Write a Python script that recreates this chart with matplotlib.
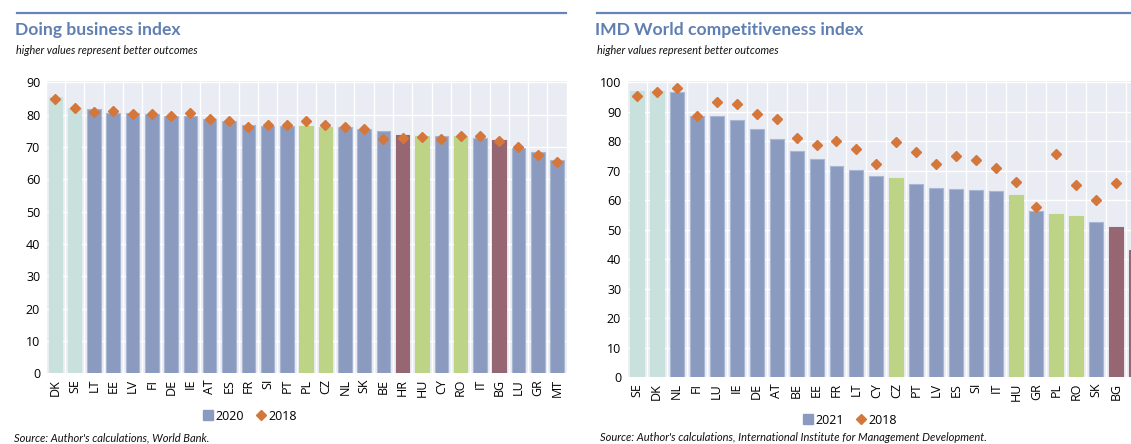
import numpy as np
import matplotlib
matplotlib.use("Agg")
import matplotlib.pyplot as plt
from matplotlib.lines import Line2D

# ---------------- data ----------------
db_countries = ["DK", "SE", "LT", "EE", "LV", "FI", "DE", "IE", "AT", "ES", "FR", "SI", "PT",
                "PL", "CZ", "NL", "SK", "BE", "HR", "HU", "CY", "RO", "IT", "BG", "LU", "GR", "MT"]
db_2020 = [85.3, 82.0, 81.6, 80.6, 80.4, 80.2, 79.7, 79.6, 78.7, 77.9, 76.8, 76.5, 76.5,
           76.4, 76.3, 76.1, 75.6, 75.0, 73.6, 73.4, 73.3, 73.3, 72.9, 72.0, 69.6, 68.4, 66.1]
db_2018 = [84.9, 82.2, 80.9, 81.0, 80.2, 80.2, 79.5, 80.4, 78.8, 77.9, 76.3, 76.7, 76.8,
           78.1, 76.7, 76.3, 75.5, 72.6, 72.9, 73.0, 72.6, 73.4, 73.5, 71.9, 69.9, 67.4, 65.5]

imd_countries = ["SE", "DK", "NL", "FI", "LU", "IE", "DE", "AT", "BE", "EE", "FR", "LT", "CY",
                 "CZ", "PT", "LV", "ES", "SI", "IT", "HU", "GR", "PL", "RO", "SK", "BG", "HR"]
imd_2021 = [97.0, 97.0, 96.6, 88.7, 88.7, 87.2, 84.1, 80.7, 76.6, 73.9, 71.6, 70.4, 68.1,
            67.6, 65.4, 64.2, 63.8, 63.4, 63.3, 61.8, 56.4, 55.4, 54.7, 52.5, 50.9, 43.1]
imd_2018 = [95.5, 96.6, 98.0, 88.7, 93.4, 92.5, 89.1, 87.6, 81.1, 78.7, 80.2, 77.3, 72.4,
            79.8, 76.4, 72.4, 75.1, 73.6, 70.8, 66.2, 57.6, 75.7, 65.1, 60.2, 65.9, np.nan]

teal_group = ["DK", "SE"]
green_group = ["PL", "CZ", "HU", "RO"]
maroon_group = ["HR", "BG"]

# ---------------- style ----------------
BLUE = "#8A9BBF"
BLUE_EDGE = "#A8B7D3"
TEAL = "#C8E1DC"
GREEN = "#BDD386"
MAROON = "#976673"
ORANGE = "#D5773A"
BG = "#EAECF3"
TITLE_C = "#5F7FB3"

def color_for(c):
    if c in teal_group:
        return TEAL
    if c in green_group:
        return GREEN
    if c in maroon_group:
        return MAROON
    return BLUE

W, H = 1131, 444
fig = plt.figure(figsize=(W / 100, H / 100), dpi=100)

tick_font = "Open Sans"
title_font = "Lato"

def panel(rect, cats, v_new, v_old, ymax, ticks):
    ax = fig.add_axes(rect)
    ax.set_facecolor(BG)
    x = np.arange(len(cats))
    cols = [color_for(c) for c in cats]
    edges = [BLUE_EDGE if col == BLUE else col for col in cols]
    ax.bar(x, v_new, width=0.7, color=cols, edgecolor=edges, linewidth=0.8, zorder=2)
    ax.plot(x, v_old, linestyle="none", marker="D", markersize=5,
            color=ORANGE, markeredgecolor=ORANGE, zorder=3)
    ax.set_xlim(-0.5, len(cats) - 0.5)
    ax.set_ylim(0, ymax)
    ax.set_yticks(ticks)
    ax.set_xticks(x)
    ax.set_xticklabels(cats, rotation=90, fontsize=9, fontfamily=tick_font)
    ax.set_xticks(np.arange(len(cats) + 1) - 0.5, minor=True)
    for lab in ax.get_yticklabels():
        lab.set_fontsize(9)
        lab.set_fontfamily(tick_font)
    ax.tick_params(axis="both", which="both", length=0, pad=4)
    ax.grid(True, axis="y", which="major", color="white", linewidth=1.0, zorder=1)
    ax.grid(True, axis="x", which="minor", color="white", linewidth=1.0, zorder=1)
    ax.grid(False, axis="x", which="major")
    ax.set_axisbelow(True)
    for s in ax.spines.values():
        s.set_visible(False)
    return ax

# left panel
panel([45.7 / W, (H - 373.3) / H, 521 / W, (373.3 - 81) / H],
      db_countries, db_2020, db_2018, 90.4, np.arange(0, 91, 10))
# right panel (extends beyond the right edge of the figure, as in the reference)
panel([626.7 / W, (H - 377.3) / H, 519.5 / W, (377.3 - 81) / H],
      imd_countries, imd_2021, imd_2018, 100.44, np.arange(0, 101, 10))

# header rules
fig.add_artist(Line2D([17 / W, 566 / W], [(H - 12.7) / H] * 2, color="#6585B8", linewidth=1.6))
fig.add_artist(Line2D([597 / W, 1.0], [(H - 12.7) / H] * 2, color="#6585B8", linewidth=1.6))

# titles
fig.text(15 / W, (H - 30) / H, "Doing business index", fontsize=12.6, fontweight="bold",
         color=TITLE_C, fontfamily=title_font, va="center", ha="left")
fig.text(595 / W, (H - 30) / H, "IMD World competitiveness index", fontsize=12.6, fontweight="bold",
         color=TITLE_C, fontfamily=title_font, va="center", ha="left")
fig.text(16 / W, (H - 50) / H, "higher values represent better outcomes", fontsize=7.8,
         style="italic", fontfamily=title_font, va="center", ha="left", color="#111111")
fig.text(597 / W, (H - 50) / H, "higher values represent better outcomes", fontsize=7.8,
         style="italic", fontfamily=title_font, va="center", ha="left", color="#111111")

# legends
def legend(xc, yc, lab_new):
    h = [Line2D([], [], linestyle="none", marker="s", markersize=7, color=BLUE, label=lab_new),
         Line2D([], [], linestyle="none", marker="D", markersize=5.5, color=ORANGE, label="2018")]
    fig.legend(handles=h, loc="center", bbox_to_anchor=(xc / W, (H - yc) / H), ncol=2,
               frameon=False, handlelength=0.8, handletextpad=0.2,
               columnspacing=1.0, prop={"family": tick_font, "size": 9})

legend(250, 416, "2020")
legend(850, 420, "2021")

# sources
fig.text(14 / W, (H - 438) / H, "Source: Author's calculations, World Bank.", fontsize=8,
         style="italic", fontfamily=title_font, va="center", ha="left", color="#111111")
fig.text(600 / W, (H - 437) / H,
         "Source: Author's calculations, International Institute for Management Development.",
         fontsize=8, style="italic", fontfamily=title_font, va="center", ha="left", color="#111111")

fig.savefig("out.png", dpi=100)
